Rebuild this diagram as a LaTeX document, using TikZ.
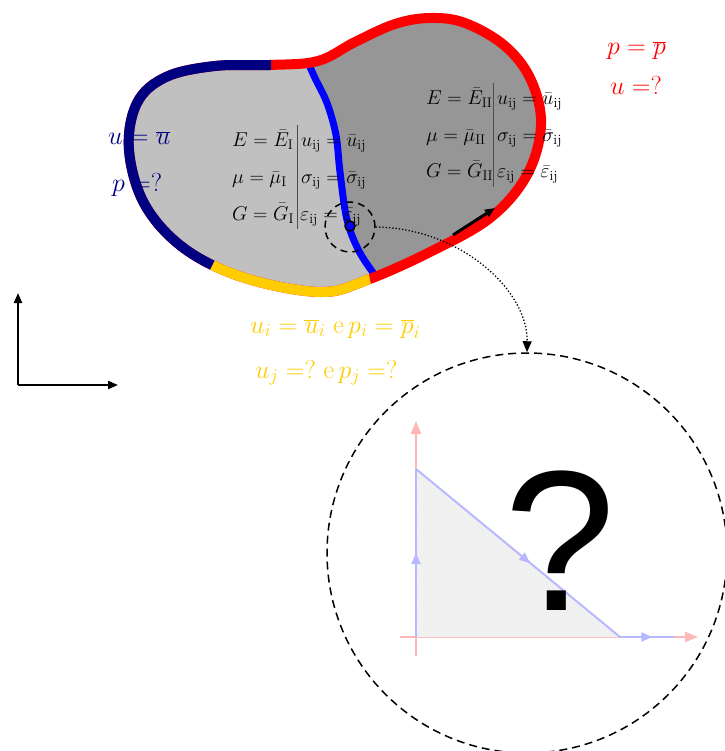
\RequirePackage{fix-cm}
\documentclass[tikz,border=0pt]{standalone}
\usepackage{fontspec}
\newfontfamily\sansq{Liberation Sans}
\usetikzlibrary{arrows.meta,patterns,decorations.markings}
\definecolor{navyc}{HTML}{000080}
\definecolor{yel}{HTML}{FFCC00}
\definecolor{lgray}{HTML}{C0C0C0}
\definecolor{dgray}{HTML}{969696}
\definecolor{pinkax}{HTML}{FFB8B8}
\definecolor{lblue}{HTML}{B8B8FF}
\def\blob{plot[smooth cycle, tension=0.6] coordinates {(270,65) (215,66) (166,77) (137,103) (129,150) (145,205) (185,249) (245,278) (320,292) (367,280) (430,252) (490,218) (527,175) (541,125) (531,80) (505,46) (465,23) (430,18) (395,24) (355,42) (318,61)}}
\def\bluecurve{plot[smooth, tension=0.55] coordinates {(305,55) (314,76) (327,103) (336,135) (340,172) (347,220) (360,253) (380,282)}}
\begin{document}
\begin{tikzpicture}[x=1pt,y=-1pt,
  eq/.style={inner sep=0pt, anchor=base west, font=\fontsize{20}{24}\selectfont},
  big/.style={inner sep=0pt, anchor=base west, font=\fontsize{26}{30}\selectfont},
  tipk/.style={-{Triangle[length=10pt,width=8pt]}},
  midarrow/.style={postaction={decorate}, decoration={markings, mark=at position #1 with {\arrow{Triangle[length=11pt,width=9pt]}}}}]
\useasboundingbox (0,0) rectangle (724,751);
% fill of the body
\fill[lgray] \blob;
\begin{scope}
  \clip \blob;
  \fill[dgray] \bluecurve -- (600,300) -- (600,0) -- (305,0) -- cycle;
  \draw[blue, line width=7pt] \bluecurve;
\end{scope}
% outline
\draw[red, line width=10pt] \blob;
\begin{scope}
  \clip (0,0) -- (271,0) -- (271,120) -- (230,230) -- (195,300) -- (0,300) -- cycle;
  \draw[navyc, line width=10pt] \blob;
\end{scope}
\begin{scope}
  \clip (195,300) -- (230,230) -- (360,230) -- (378,320) -- (195,320) -- cycle;
  \draw[yel, line width=10pt] \blob;
\end{scope}
% material I
\node[eq] (e1) at (232,147) {$E=\bar{E}_{\mathrm{I}}$};
\node[eq] (m1) at (232,184) {$\mu=\bar{\mu}_{\mathrm{I}}$};
\node[eq] (g1) at (232,220) {$G=\bar{G}_{\mathrm{I}}$};
\draw[black!70, line width=1pt] (297,125) -- (297,229);
\node[eq] (u1) at (301,147) {$u_{\mathrm{ij}}=\bar{u}_{\mathrm{ij}}$};
\node[eq] (s1) at (301,184) {$\sigma_{\mathrm{ij}}=\bar{\sigma}_{\mathrm{ij}}$};
\node[eq] (t1) at (300,220) {$\varepsilon_{\mathrm{ij}}=\bar{\varepsilon}_{\mathrm{ij}}$};
% material II
\node[eq] (e2) at (426,105) {$E=\bar{E}_{\mathrm{II}}$};
\node[eq] (m2) at (426,142) {$\mu=\bar{\mu}_{\mathrm{II}}$};
\node[eq] (g2) at (426,178) {$G=\bar{G}_{\mathrm{II}}$};
\draw[black!70, line width=1pt] (493,83) -- (493,187);
\node[eq] (u2) at (497,105) {$u_{\mathrm{ij}}=\bar{u}_{\mathrm{ij}}$};
\node[eq] (s2) at (497,142) {$\sigma_{\mathrm{ij}}=\bar{\sigma}_{\mathrm{ij}}$};
\node[eq] (t2) at (497,178) {$\varepsilon_{\mathrm{ij}}=\bar{\varepsilon}_{\mathrm{ij}}$};
% boundary conditions
\node[big, navyc] (bn1) at (108,145) {$u=\overline{u}$};
\node[big, navyc] (bn2) at (112,192) {$p=?$};
\node[big, red] (br1) at (607,55) {$p=\overline{p}$};
\node[big, red] (br2) at (610,95) {$u=?$};
\node[big, yel] (by1) at (250,333) {$u_i=\overline{u}_i\ \mathrm{e}\,p_i=\overline{p}_i$};
\node[big, yel] (by2) at (255,378) {$u_j=?\ \mathrm{e}\,p_j=?$};
% tangent arrow
\coordinate (ta) at (453,235);
\coordinate (tb) at (495,208);
\draw[tipk, line width=3pt] (ta) -- (tb);
% point and zoom circles
\node[draw, dash pattern=on 7pt off 5pt, line width=1.5pt, circle, minimum size=50pt, inner sep=0pt] (zoom) at (350,227) {};
\node[draw, circle, fill=blue, line width=1.5pt, minimum size=10pt, inner sep=0pt] (pt) at (350,226) {};
\node[draw, dash pattern=on 8pt off 5pt, line width=1.5pt, circle, minimum size=400pt, inner sep=0pt] (lens) at (527,553) {};
\draw[dotted, line width=1.3pt, -{Triangle[length=11pt,width=9pt]}] (zoom.east) .. controls (460,228) and (528,290) .. (lens.north);
% reference axes
\coordinate (O) at (18,385);
\coordinate (Y) at (18,293);
\coordinate (X) at (118,385);
\draw[tipk, line width=2pt] (O) -- (Y);
\draw[tipk, line width=2pt] (O) -- (X);
% zoomed element
\coordinate (o) at (416,637);
\coordinate (ay) at (416,421);
\coordinate (ax) at (698,637);
\coordinate (ay0) at (416,656);
\coordinate (ax0) at (400,637);
\coordinate (v1) at (416,469);
\coordinate (v2) at (620,637);
\coordinate (v3) at (674,637);
\draw[pinkax, line width=2pt, -{Triangle[length=13pt,width=10pt]}] (ay0) -- (ay);
\draw[pinkax, line width=2pt, -{Triangle[length=13pt,width=10pt]}] (ax0) -- (ax);
\fill[black!3] (o) -- (v1) -- (v2) -- cycle;
\fill[pattern=north east lines, pattern color=black!10] (o) -- (v1) -- (v2) -- cycle;
\draw[lblue, line width=2pt, midarrow=0.5] (o) -- (v1);
\draw[lblue, line width=2pt, midarrow=0.56] (v1) -- (v2);
\draw[lblue, line width=2pt, midarrow=0.6] (v2) -- (v3);
\node[font=\sansq\fontsize{200}{200}\selectfont, inner sep=0pt, anchor=base] (q) at (560,610) {?};
\end{tikzpicture}
\end{document}
